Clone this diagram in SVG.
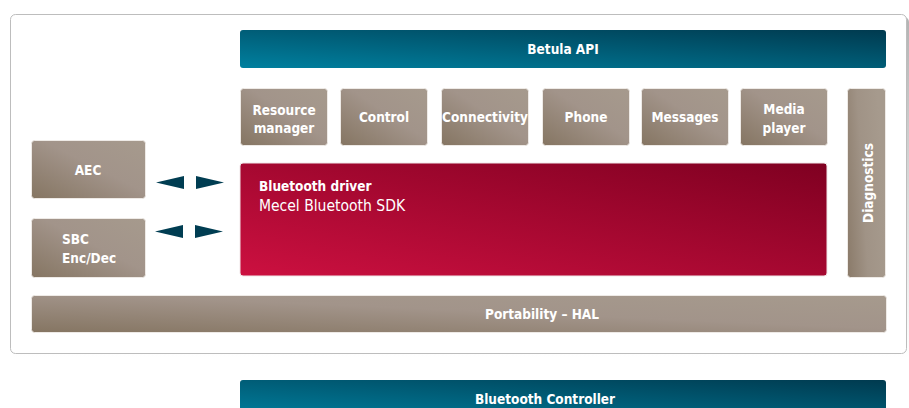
<svg xmlns="http://www.w3.org/2000/svg" width="909" height="408" viewBox="0 0 909 408">
<defs>
<linearGradient id="gBlue" x1="0" y1="1" x2="1" y2="0">
<stop offset="0" stop-color="#00809f"/>
<stop offset="1" stop-color="#003a4f"/>
</linearGradient>
<linearGradient id="gBrown" x1="0" y1="1" x2="1" y2="0">
<stop offset="0" stop-color="#857562"/>
<stop offset="0.55" stop-color="#a2948a"/>
<stop offset="1" stop-color="#a69a8d"/>
</linearGradient>
<linearGradient id="gBrownV" x1="0" y1="1" x2="1" y2="0.7">
<stop offset="0" stop-color="#8a7a69"/>
<stop offset="0.5" stop-color="#a09386"/>
<stop offset="1" stop-color="#a69a8d"/>
</linearGradient>
<linearGradient id="gRed" x1="0" y1="1" x2="1" y2="0">
<stop offset="0" stop-color="#cc1040"/>
<stop offset="1" stop-color="#7f0021"/>
</linearGradient>
<linearGradient id="gShadow" x1="0" y1="0" x2="0" y2="1">
<stop offset="0" stop-color="#a0a0a0"/>
<stop offset="1" stop-color="#ffffff"/>
</linearGradient>
<style>
.lbl{font-family:"DejaVu Sans Condensed","DejaVu Sans",sans-serif;font-stretch:condensed;font-weight:bold;font-size:13.5px;fill:#ffffff;text-anchor:middle}
.box{fill:url(#gBrown);stroke:#eeeae6;stroke-width:1}
.arr{fill:#003d52}
</style>
</defs>
<g id="frame">
<rect x="12" y="17" width="897" height="341" rx="5" fill="url(#gShadow)" opacity="0.8"/>
<rect x="10.5" y="14.5" width="896" height="339" rx="5" fill="#ffffff" stroke="#bdbdbd" stroke-width="1"/>
</g>
<g id="betula-api">
<rect x="240" y="30" width="646" height="38" rx="3" fill="url(#gBlue)"/>
<text class="lbl" x="563" y="54">Betula API</text>
</g>
<g id="resource-manager">
<rect class="box" x="240.5" y="88.5" width="87" height="57" rx="3"/>
<text class="lbl" x="284" y="115">Resource</text>
<text class="lbl" x="284" y="133">manager</text>
</g>
<g id="control">
<rect class="box" x="340.5" y="88.5" width="87" height="57" rx="3"/>
<text class="lbl" x="384" y="122">Control</text>
</g>
<g id="connectivity">
<rect class="box" x="441.5" y="88.5" width="87" height="57" rx="3"/>
<text class="lbl" x="485" y="122">Connectivity</text>
</g>
<g id="phone">
<rect class="box" x="542.5" y="88.5" width="87" height="57" rx="3"/>
<text class="lbl" x="586" y="122">Phone</text>
</g>
<g id="messages">
<rect class="box" x="641.5" y="88.5" width="87" height="57" rx="3"/>
<text class="lbl" x="685" y="122">Messages</text>
</g>
<g id="media-player">
<rect class="box" x="740.5" y="88.5" width="87" height="57" rx="3"/>
<text class="lbl" x="784" y="114">Media</text>
<text class="lbl" x="784" y="133">player</text>
</g>
<g id="diagnostics">
<rect x="847.5" y="88.5" width="38" height="189" rx="3" fill="url(#gBrownV)" stroke="#eeeae6" stroke-width="1"/>
<text class="lbl" transform="translate(873,183) rotate(-90)" x="0" y="0">Diagnostics</text>
</g>
<g id="bluetooth-driver">
<rect x="240" y="163" width="587" height="113" rx="3" fill="url(#gRed)" stroke="#f0e6e8" stroke-width="1"/>
<text class="lbl" x="259" y="191" style="text-anchor:start">Bluetooth driver</text>
<text class="lbl" x="259" y="211" style="text-anchor:start;font-weight:normal;font-size:15.5px">Mecel Bluetooth SDK</text>
</g>
<g id="aec">
<rect class="box" x="31.5" y="140.5" width="114" height="58" rx="3"/>
<text class="lbl" x="88" y="175">AEC</text>
</g>
<g id="sbc">
<rect class="box" x="31.5" y="218.5" width="114" height="59" rx="3"/>
<text class="lbl" x="62" y="244" style="text-anchor:start">SBC</text>
<text class="lbl" x="62" y="263" style="text-anchor:start">Enc/Dec</text>
</g>
<g id="portability-hal">
<rect class="box" x="31.5" y="295.5" width="855" height="37" rx="3"/>
<text class="lbl" x="542" y="319">Portability – HAL</text>
</g>
<g id="bluetooth-controller">
<rect x="240" y="380" width="646" height="40" rx="3" fill="url(#gBlue)"/>
<text class="lbl" x="545" y="404">Bluetooth Controller</text>
</g>
<g id="connectors">
<polygon class="arr" points="156,182.5 184,176 184,189"/>
<polygon class="arr" points="224,182.5 196,176 196,189"/>
<polygon class="arr" points="155,231.5 183,225 183,238"/>
<polygon class="arr" points="223,231.5 195,225 195,238"/>
</g>
</svg>
